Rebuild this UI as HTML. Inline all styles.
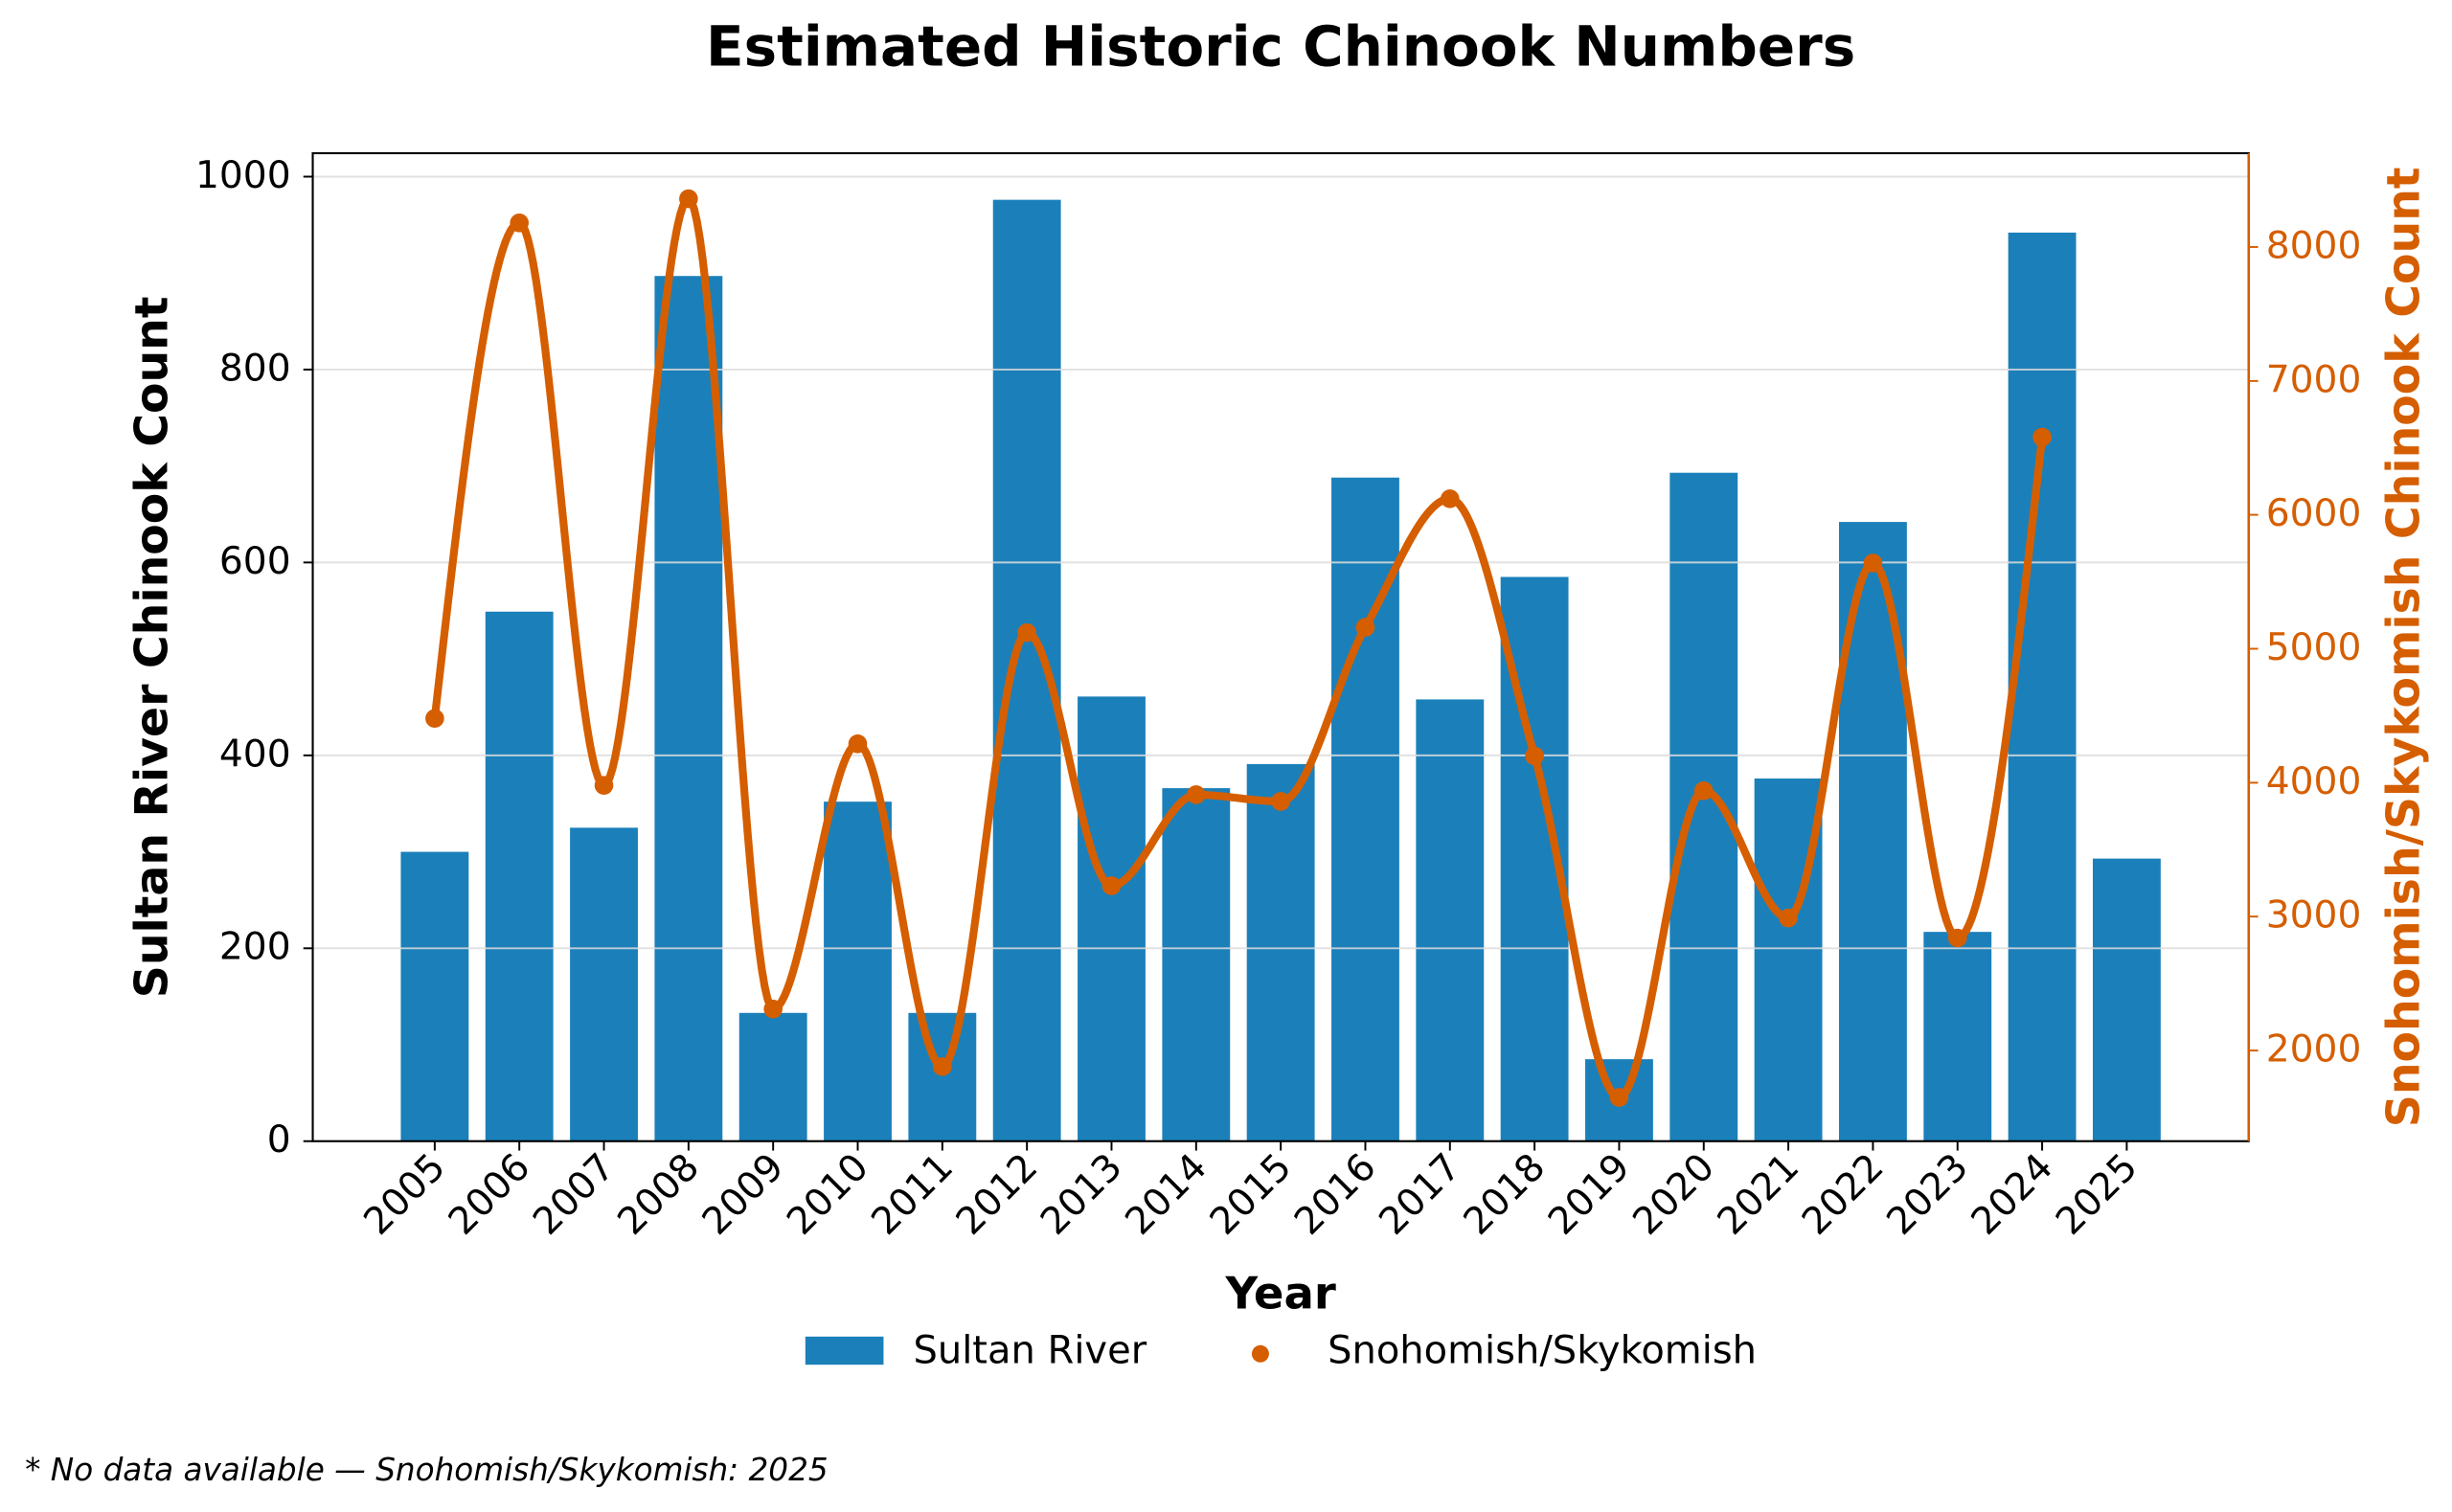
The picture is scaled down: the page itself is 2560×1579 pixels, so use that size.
<!DOCTYPE html>
<html><head><meta charset="utf-8"><style>html,body{margin:0;padding:0;background:#fff}svg{display:block}</style></head>
<body>
<svg id="s" width="2560" height="1579" viewBox="0 0 1568 967.2" preserveAspectRatio="none" xmlns="http://www.w3.org/2000/svg" font-family="'DejaVu Sans','Liberation Sans',sans-serif">
<text x="819" y="42" text-anchor="middle" font-size="35.5" font-weight="bold">Estimated Historic Chinook Numbers</text>
<g id="bars" fill="#1b80ba"></g>
<g stroke="#dcdcdc" stroke-width="1.2" opacity="0.85">
<line x1="200" x2="1438" y1="113" y2="113"/><line x1="200" x2="1438" y1="236.4" y2="236.4"/><line x1="200" x2="1438" y1="359.8" y2="359.8"/><line x1="200" x2="1438" y1="483.2" y2="483.2"/><line x1="200" x2="1438" y1="606.6" y2="606.6"/>
</g>
<path id="curve" fill="none" stroke="#d55e00" stroke-width="5" stroke-linejoin="round"/>
<g id="dots" fill="#d55e00"></g>
<rect x="200" y="98" width="1238" height="632" fill="none" stroke="#000" stroke-width="1.3"/>
<line x1="1438" y1="98" x2="1438" y2="730" stroke="#d55e00" stroke-width="1.3"/>
<g stroke="#000" stroke-width="1.2">
<line x1="194" x2="200" y1="730" y2="730"/><line x1="194" x2="200" y1="606.6" y2="606.6"/><line x1="194" x2="200" y1="483.2" y2="483.2"/><line x1="194" x2="200" y1="359.8" y2="359.8"/><line x1="194" x2="200" y1="236.4" y2="236.4"/><line x1="194" x2="200" y1="113" y2="113"/>
</g>
<g font-size="24" text-anchor="end">
<text x="186" y="737">0</text><text x="186" y="613.6">200</text><text x="186" y="490.2">400</text><text x="186" y="366.8">600</text><text x="186" y="243.4">800</text><text x="186" y="120">1000</text>
</g>
<g stroke="#d55e00" stroke-width="1.2">
<line x1="1438" x2="1444" y1="158" y2="158"/><line x1="1438" x2="1444" y1="243.7" y2="243.7"/><line x1="1438" x2="1444" y1="329.3" y2="329.3"/><line x1="1438" x2="1444" y1="415" y2="415"/><line x1="1438" x2="1444" y1="500.7" y2="500.7"/><line x1="1438" x2="1444" y1="586.3" y2="586.3"/><line x1="1438" x2="1444" y1="672" y2="672"/>
</g>
<g font-size="24" fill="#d55e00">
<text x="1449" y="165">8000</text><text x="1449" y="250.7">7000</text><text x="1449" y="336.3">6000</text><text x="1449" y="422">5000</text><text x="1449" y="507.7">4000</text><text x="1449" y="593.3">3000</text><text x="1449" y="679">2000</text>
</g>
<text transform="translate(107,414) rotate(-90)" text-anchor="middle" font-size="29" font-weight="bold">Sultan River Chinook Count</text>
<text transform="translate(1547,414) rotate(-90)" text-anchor="middle" font-size="29" font-weight="bold" fill="#d55e00">Snohomish/Skykomish Chinook Count</text>
<g id="xt" stroke="#000" stroke-width="1.2"></g>
<g font-size="24" text-anchor="end">
<text transform="translate(286,748) rotate(-45)">2005</text><text transform="translate(340.1,748) rotate(-45)">2006</text><text transform="translate(394.2,748) rotate(-45)">2007</text><text transform="translate(448.3,748) rotate(-45)">2008</text><text transform="translate(502.4,748) rotate(-45)">2009</text><text transform="translate(556.5,748) rotate(-45)">2010</text><text transform="translate(610.6,748) rotate(-45)">2011</text><text transform="translate(664.7,748) rotate(-45)">2012</text><text transform="translate(718.8,748) rotate(-45)">2013</text><text transform="translate(772.9,748) rotate(-45)">2014</text><text transform="translate(827,748) rotate(-45)">2015</text><text transform="translate(881.1,748) rotate(-45)">2016</text><text transform="translate(935.2,748) rotate(-45)">2017</text><text transform="translate(989.3,748) rotate(-45)">2018</text><text transform="translate(1043.4,748) rotate(-45)">2019</text><text transform="translate(1097.5,748) rotate(-45)">2020</text><text transform="translate(1151.6,748) rotate(-45)">2021</text><text transform="translate(1205.7,748) rotate(-45)">2022</text><text transform="translate(1259.8,748) rotate(-45)">2023</text><text transform="translate(1313.9,748) rotate(-45)">2024</text><text transform="translate(1368,748) rotate(-45)">2025</text>
</g>
<text x="819" y="837" text-anchor="middle" font-size="28.5" font-weight="bold">Year</text>
<rect x="515" y="855" width="50" height="18" fill="#1b80ba"/>
<text x="584" y="872" font-size="24.5">Sultan River</text>
<circle cx="806" cy="866" r="5.5" fill="#d55e00"/>
<text x="849" y="872" font-size="24.5">Snohomish/Skykomish</text>
<text x="16" y="947" font-size="20" font-style="italic">* No data available — Snohomish/Skykomish: 2025</text>
</svg>
<script>
(function(){
var NS="http://www.w3.org/2000/svg";
var bars=[300,549,325,897,133,352,133,976,461,366,391,688,458,585,85,693,376,642,217,942,293];
var line=[4480,8180,3980,8360,2310,4290,1880,5120,3230,3910,3860,5160,6120,4200,1650,3940,2990,5640,2840,6580];
function X(i){return 278+i*54.1;}
function YL(v){return 730-v*0.617;}
function YR(v){return 158+(8000-v)*0.08567;}
var gb=document.getElementById("bars"),gd=document.getElementById("dots"),gx=document.getElementById("xt");
bars.forEach(function(v,i){var r=document.createElementNS(NS,"rect");r.setAttribute("x",X(i)-21.7);r.setAttribute("width",43.4);r.setAttribute("y",YL(v));r.setAttribute("height",v*0.617);gb.appendChild(r);
var l=document.createElementNS(NS,"line");l.setAttribute("x1",X(i));l.setAttribute("x2",X(i));l.setAttribute("y1",730);l.setAttribute("y2",736);gx.appendChild(l);});
// PCHIP
var n=line.length,y=line,dl=[],m=[];
for(var i=0;i<n-1;i++)dl[i]=y[i+1]-y[i];
for(i=1;i<n-1;i++){if(dl[i-1]*dl[i]<=0)m[i]=0;else m[i]=2/(1/dl[i-1]+1/dl[i]);}
m[0]=dl[0]*1.5-m[1]*0.5; if(m[0]*dl[0]<=0)m[0]=0;
m[n-1]=dl[n-2]*1.5-m[n-2]*0.5; if(m[n-1]*dl[n-2]<=0)m[n-1]=0;
var pts=[];
for(i=0;i<n-1;i++){for(var k=0;k<30;k++){var t=k/30,t2=t*t,t3=t2*t;
var v=(2*t3-3*t2+1)*y[i]+(t3-2*t2+t)*m[i]+(-2*t3+3*t2)*y[i+1]+(t3-t2)*m[i+1];
pts.push((X(i+t)).toFixed(2)+","+YR(v).toFixed(2));}}
pts.push(X(n-1).toFixed(2)+","+YR(y[n-1]).toFixed(2));
document.getElementById("curve").setAttribute("d","M"+pts.join("L"));
line.forEach(function(v,i){var c=document.createElementNS(NS,"circle");c.setAttribute("cx",X(i));c.setAttribute("cy",YR(v));c.setAttribute("r",6);gd.appendChild(c);});
})();
</script>
</body></html>
